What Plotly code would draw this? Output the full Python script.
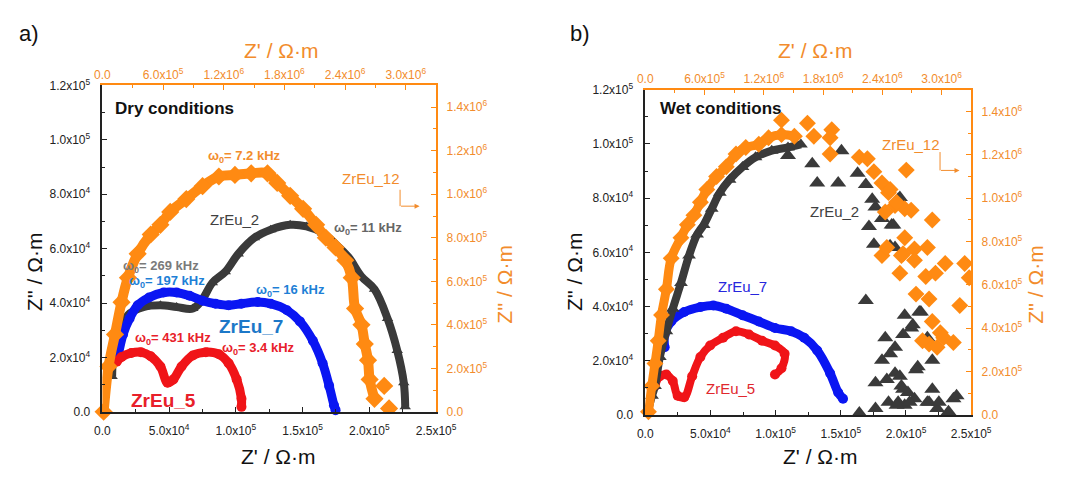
import plotly.graph_objects as go

# ---------------- Panel a: dry conditions ----------------
dry_zr5_x = [10700, 14400, 21700, 28900, 36200, 43500, 48800, 53200, 59300, 67800, 77500, 87300, 94600, 100600, 104200, 104200]
dry_zr5_y = [18500, 20200, 21700, 22000, 20500, 16700, 10800, 12000, 16700, 20800, 22000, 21200, 17900, 12000, 4900, 1900]

dry_zr7_x = [11900, 15500, 20400, 26500, 35000, 45900, 55600, 65400, 75100, 84800, 94600, 104200, 116400, 126100, 138300, 148000, 157700, 165000, 169900, 173500, 174700]
dry_zr7_y = [20800, 28500, 34400, 39200, 42100, 43900, 43900, 42700, 40900, 39800, 39200, 39800, 40400, 39800, 37400, 33300, 26200, 17900, 9600, 2500, 700]

dry_zr2_x = [7300, 9500, 19200, 31300, 43500, 55600, 67800, 75100, 82400, 92100, 101800, 113900, 126100, 140700, 152900, 165000, 174700, 184400, 194100, 203900, 213600, 220900, 225800, 226900]
dry_zr2_y = [13100, 25000, 35600, 38600, 39200, 38600, 38000, 41500, 47500, 51500, 58100, 64000, 67000, 68800, 68200, 65800, 61700, 56900, 49800, 45100, 34400, 22600, 10800, 1900]

# ZrEu_12 is read on the top / right axes
dry_zr12_x = [12500, 60600, 125000, 189500, 253000, 349000, 478000, 574000, 671000, 830000, 991000, 1152000, 1311000, 1472000, 1633000, 1729000, 1857000, 1985000, 2114000, 2210000, 2306000, 2402000, 2466000, 2499000, 2562000, 2595000, 2627000, 2643000, 2691000, 2787000, 2835000]
dry_zr12_y = [1300, 208600, 356400, 504600, 616900, 726500, 815300, 859600, 918700, 977700, 1037200, 1081500, 1088600, 1096200, 1096200, 1051800, 992800, 933300, 859600, 800200, 755800, 696800, 616900, 474900, 400800, 312000, 238300, 149600, 60800, 119800, 16400]

# ---------------- Panel b: wet conditions ----------------
wet_zr5_x = [7500, 11200, 16200, 21100, 24900, 29900, 36000, 42300, 49800, 59700, 69600, 79600, 89600, 99500, 106900, 104500, 99500]
wet_zr5_y = [10700, 14300, 14900, 12500, 7100, 6500, 14300, 21400, 25600, 28500, 30900, 29700, 27400, 25600, 22600, 17200, 14900]

wet_zr7_x = [14900, 14900, 19900, 29900, 42300, 52200, 62200, 74600, 87100, 99500, 111900, 121900, 131900, 141800, 148000, 151700]
wet_zr7_y = [25000, 29700, 34500, 38000, 39800, 40400, 39200, 36800, 34500, 32100, 30900, 28500, 23800, 15400, 8300, 6000]

# ZrEu_2 (wet): first 18 points form the dense rising branch, the rest are scattered
wet_zr2_x = [2200, 5200, 7500, 11200, 16200, 21100, 27400, 33600, 39800, 44800, 51000, 57200, 64700, 74600, 84600, 97000, 109500, 119400,
             109500, 128100, 131900, 148000, 150500, 162900, 169200, 174100, 176600, 194000, 171600, 189000, 175400, 191600, 181600,
             169200, 164200, 176600, 184100, 191600, 181600, 185300, 191600, 196500, 201500, 206500, 199000, 204000, 211400, 216400,
             209000, 216400, 223900, 236400, 232600, 186600, 176600, 194000, 199000, 195300, 190300, 187800, 205200, 210200, 197800,
             187800, 207700, 195300, 197800, 220200, 220200, 217700, 238800, 225200, 202800, 192800]
wet_zr2_y = [1800, 7100, 10700, 21400, 30900, 39200, 48700, 58800, 66600, 70100, 76100, 82000, 86800, 91500, 95100, 97500, 98700, 99800,
             95700, 92700, 85600, 85600, 97500, 89200, 85000, 79600, 76700, 79600, 69500, 70100, 63000, 61800, 72500,
             42200, 700, 2400, 28500, 25000, 20200, 13100, 15400, 10700, 8300, 6000, 36800, 32100, 38000, 28500,
             17800, 4700, 2400, 6000, 1200, 4700, 11900, 4700, 3600, 80200, 70100, 62400, 33300, 38000, 29700,
             22600, 16700, 14300, 9500, 20200, 9500, 4700, 7100, 4700, 4700, 3600]

# ZrEu_12 (wet, top / right axes): first 20 points form the dense rising branch
wet_zr12_x = [32500, 66000, 98500, 131000, 164500, 213800, 263000, 361500, 426500, 492600, 558600, 623600, 722100, 820600, 919100, 1017600, 1149600, 1248100, 1379100, 1510200,
              1379100, 1642200, 1707200, 1888400, 1871700, 1871700, 2167200, 2249000, 2315000, 2396700, 2462800, 2528800, 2627300, 2692300,
              2643000, 2906000, 2430200, 2479500, 2544500, 2627300, 2396700, 2593800, 2725800, 2856800, 2610500, 2446000, 2578000, 2840000,
              2938600, 3037100, 3234100, 2741500, 2873500, 3184800, 2906000, 2987800, 2873500, 2955300, 3119800, 2807500, 3021300, 2725800, 3280000]
wet_zr12_y = [14700, 133700, 237600, 341900, 460500, 579500, 722200, 817200, 876900, 921500, 980800, 1040100, 1099800, 1144400, 1203700, 1233500, 1248200, 1278100, 1292800, 1285200,
              1359700, 1345000, 1285200, 1315100, 1278100, 1203700, 1188900, 1181400, 1122100, 1069900, 1025300, 966000, 950900, 943800,
              1129200, 899200, 936200, 1040100, 980800, 817200, 735600, 735600, 765400, 772600, 743100, 772600, 654000, 638800,
              654000, 698600, 698600, 557300, 535000, 505100, 431100, 378900, 326800, 312100, 334400, 341900, 356600, 713300, 633000]

# ---------------- axis ticks ----------------
bottom_vals = [0, 50000, 100000, 150000, 200000, 250000]
bottom_text = ["0.0", "5.0x10<sup>4</sup>", "1.0x10<sup>5</sup>", "1.5x10<sup>5</sup>", "2.0x10<sup>5</sup>", "2.5x10<sup>5</sup>"]
left_vals = [0, 20000, 40000, 60000, 80000, 100000, 120000]
left_text = ["0.0", "2.0x10<sup>4</sup>", "4.0x10<sup>4</sup>", "6.0x10<sup>4</sup>", "8.0x10<sup>4</sup>", "1.0x10<sup>5</sup>", "1.2x10<sup>5</sup>"]
top_vals = [0, 600000, 1200000, 1800000, 2400000, 3000000]
top_text = ["0.0", "6.0x10<sup>5</sup>", "1.2x10<sup>6</sup>", "1.8x10<sup>6</sup>", "2.4x10<sup>6</sup>", "3.0x10<sup>6</sup>"]
right_vals = [0, 200000, 400000, 600000, 800000, 1000000, 1200000, 1400000]
right_text = ["0.0", "2.0x10<sup>5</sup>", "4.0x10<sup>5</sup>", "6.0x10<sup>5</sup>", "8.0x10<sup>5</sup>", "1.0x10<sup>6</sup>", "1.2x10<sup>6</sup>", "1.4x10<sup>6</sup>"]
bottom_minor = [25000, 75000, 125000, 175000, 225000]
left_minor = [10000, 30000, 50000, 70000, 90000, 110000]
top_minor = [300000, 900000, 1500000, 2100000, 2700000, 3300000]
right_minor = [100000, 300000, 500000, 700000, 900000, 1100000, 1300000, 1500000]

X_RANGE = [0, 250000]
Y_RANGE = [0, 120000]
XT_RANGE = [0, 3300000]
YR_RANGE = [0, 1500000]

# ---------------- styles ----------------
W, H = 1070, 478
FONT = "Liberation Sans, Arial, sans-serif"
ORANGE = "#FF8A12"
ORANGE_TXT = "#F28C2C"
GRAY = "#3A3A3A"
BLUE = "#0A16F2"
RED = "#F01418"
BLACK_TXT = "#222222"


def px(x, y):
    """window pixel -> paper coordinates"""
    return x / W, 1 - y / H


fig = go.Figure()


def band(x, y, color, symbol, size, lw, xa, ya):
    fig.add_trace(go.Scatter(x=x, y=y, mode="lines+markers", xaxis=xa, yaxis=ya,
                             line=dict(color=color, width=lw, shape="spline"),
                             marker=dict(color=color, symbol=symbol, size=size, line=dict(width=0)),
                             cliponaxis=False, hoverinfo="skip"))


def pts(x, y, color, symbol, size, xa, ya):
    fig.add_trace(go.Scatter(x=x, y=y, mode="markers", xaxis=xa, yaxis=ya,
                             marker=dict(color=color, symbol=symbol, size=size, line=dict(width=0)),
                             hoverinfo="skip"))


# panel a
band(dry_zr2_x, dry_zr2_y, GRAY, "triangle-up", 10, 8, "x", "y")
band(dry_zr7_x, dry_zr7_y, BLUE, "circle", 10, 9, "x", "y")
band(dry_zr5_x, dry_zr5_y, RED, "circle", 10, 9, "x", "y")
band(dry_zr12_x[:29], dry_zr12_y[:29], ORANGE, "diamond", 14, 10, "x2", "y2")
pts(dry_zr12_x[29:], dry_zr12_y[29:], ORANGE, "diamond", 14, "x2", "y2")

# panel b
band(wet_zr7_x, wet_zr7_y, BLUE, "circle", 10, 9, "x3", "y3")
band(wet_zr5_x, wet_zr5_y, RED, "circle", 10, 8, "x3", "y3")
band(wet_zr2_x[:18], wet_zr2_y[:18], GRAY, "triangle-up", 12, 8, "x3", "y3")
pts(wet_zr2_x[18:], wet_zr2_y[18:], GRAY, "triangle-up", 14, "x3", "y3")
band(wet_zr12_x[:20], wet_zr12_y[:20], ORANGE, "diamond", 13, 9, "x4", "y4")
pts(wet_zr12_x[20:], wet_zr12_y[20:], ORANGE, "diamond", 13, "x4", "y4")


def axis(domain, rng, vals, text, minor, color, txtcolor, lw, **kw):
    d = dict(domain=domain, range=rng, tickmode="array", tickvals=vals, ticktext=text,
             ticks="inside", ticklen=5, tickwidth=1.2, tickcolor=color,
             showline=True, linecolor=color, linewidth=lw, showgrid=False, zeroline=False,
             tickfont=dict(family=FONT, size=12, color=txtcolor),
             minor=dict(tickmode="array", tickvals=minor, ticks="inside", ticklen=3, tickwidth=1.2, tickcolor=color),
             fixedrange=True)
    d.update(kw)
    return d


ax0, ay1 = px(97, 417)
ax1, ay0 = px(440, 79)
dom_a_x, dom_a_y = [ax0, ax1], [ay1, ay0]
bx0, by1 = px(655, 420)
bx1, by0 = px(990, 83.5)
dom_b_x, dom_b_y = [bx0, bx1], [by1, by0]

fig.update_layout(
    width=W, height=H, margin=dict(l=0, r=0, t=0, b=0),
    paper_bgcolor="white", plot_bgcolor="white", showlegend=False,
    xaxis=axis(dom_a_x, X_RANGE, bottom_vals, bottom_text, bottom_minor, "#222", BLACK_TXT, 1.5, anchor="y", ticklabelstandoff=7),
    yaxis=axis(dom_a_y, Y_RANGE, left_vals, left_text, left_minor, "#222", BLACK_TXT, 1.5, anchor="x", ticklabelstandoff=8),
    xaxis2=axis(dom_a_x, XT_RANGE, top_vals, top_text, top_minor, ORANGE, ORANGE_TXT, 2, anchor="y", overlaying="x", side="top"),
    yaxis2=axis(dom_a_y, YR_RANGE, right_vals, right_text, right_minor, ORANGE, ORANGE_TXT, 2, anchor="x", overlaying="y", side="right", ticklabelstandoff=6),
    xaxis3=axis(dom_b_x, X_RANGE, bottom_vals, bottom_text, bottom_minor, "#222", BLACK_TXT, 1.5, anchor="y3", ticklabelstandoff=7),
    yaxis3=axis(dom_b_y, Y_RANGE, left_vals, left_text, left_minor, "#222", BLACK_TXT, 1.5, anchor="x3", ticklabelstandoff=8),
    xaxis4=axis(dom_b_x, XT_RANGE, top_vals, top_text, top_minor, ORANGE, ORANGE_TXT, 2, anchor="y3", overlaying="x3", side="top"),
    yaxis4=axis(dom_b_y, YR_RANGE, right_vals, right_text, right_minor, ORANGE, ORANGE_TXT, 2, anchor="x3", overlaying="y3", side="right", ticklabelstandoff=6),
)

annots = []


def txt(x, y, s, color, size, bold=False, angle=0, xanchor="center"):
    xx, yy = px(x, y)
    annots.append(dict(x=xx, y=yy, xref="paper", yref="paper", text=("<b>%s</b>" % s) if bold else s,
                       showarrow=False, textangle=angle, xanchor=xanchor, yanchor="middle",
                       font=dict(family=FONT, size=size, color=color)))


W0 = "ω<sub>0</sub>= "
# panel labels
txt(22, 25, "a)", "#111", 22)
txt(588, 25, "b)", "#111", 22)
# axis titles
TITLE = "Z' / Ω·m"
TITLE_Y = "Z'' / Ω·m"
txt(278, 463, TITLE, "#111", 21)
txt(281, 43, TITLE, ORANGE_TXT, 21)
txt(28, 272, TITLE_Y, "#111", 21, angle=-90)
txt(510, 285, TITLE_Y, ORANGE_TXT, 21, angle=-90)
txt(835, 463, TITLE, "#111", 21)
txt(830, 43, TITLE, ORANGE_TXT, 21)
txt(583, 272, TITLE_Y, "#111", 21, angle=-90)
txt(1056, 285, TITLE_Y, ORANGE_TXT, 21, angle=-90)

# panel a labels
txt(108, 103, "Dry conditions", "#111", 17, bold=True, xanchor="left")
txt(243, 153, W0 + "7.2 kHz", ORANGE_TXT, 13, bold=True)
txt(373, 175, "ZrEu_12", ORANGE_TXT, 15)
txt(233, 218, "ZrEu_2", "#404040", 15)
txt(370, 227, W0 + "11 kHz", "#666666", 13, bold=True)
txt(157, 266, W0 + "269 kHz", "#7a7a7a", 13, bold=True)
txt(163, 282, W0 + "197 kHz", "#1E7FD6", 13, bold=True)
txt(290, 291, W0 + "16 kHz", "#1E7FD6", 13, bold=True)
txt(250, 328, "ZrEu_7", "#1C78C8", 19, bold=True)
txt(170, 341, W0 + "431 kHz", "#E8202A", 13, bold=True)
txt(257, 351, W0 + "3.4 kHz", "#E8202A", 13, bold=True)
txt(160, 405, "ZrEu_5", "#E8202A", 19, bold=True)

# panel b labels
txt(668, 103, "Wet conditions", "#111", 17, bold=True, xanchor="left")
txt(928, 140, "ZrEu_12", ORANGE_TXT, 15)
txt(850, 210, "ZrEu_2", "#404040", 15)
txt(755, 287, "ZrEu_7", "#2626DD", 15)
txt(743, 393, "ZrEu_5", "#E0282E", 15)

# ZrEu_12 arrows (pointing to the right axis)
shapes = []
for (vx, vy0, vy1, hx1) in [(403, 187, 204, 423), (958, 148, 167, 978)]:
    x0, y0 = px(vx, vy0)
    x1, y1 = px(vx, vy1)
    shapes.append(dict(type="line", xref="paper", yref="paper", x0=x0, y0=y0, x1=x1, y1=y1,
                       line=dict(color=ORANGE_TXT, width=1)))
    hx, hy = px(hx1, vy1)
    annots.append(dict(x=hx, y=hy, ax=-(hx1 - vx), ay=0, xref="paper", yref="paper", axref="pixel", ayref="pixel",
                       showarrow=True, arrowhead=2, arrowsize=1, arrowwidth=1, arrowcolor=ORANGE_TXT, text=""))

fig.update_layout(annotations=annots, shapes=shapes)

POST = ("document.documentElement.style.margin='0';document.documentElement.style.padding='0';"
        "document.body.style.margin='0';document.body.style.padding='0';")
fig.write_html("out.html", config={"displayModeBar": False}, post_script=POST)
